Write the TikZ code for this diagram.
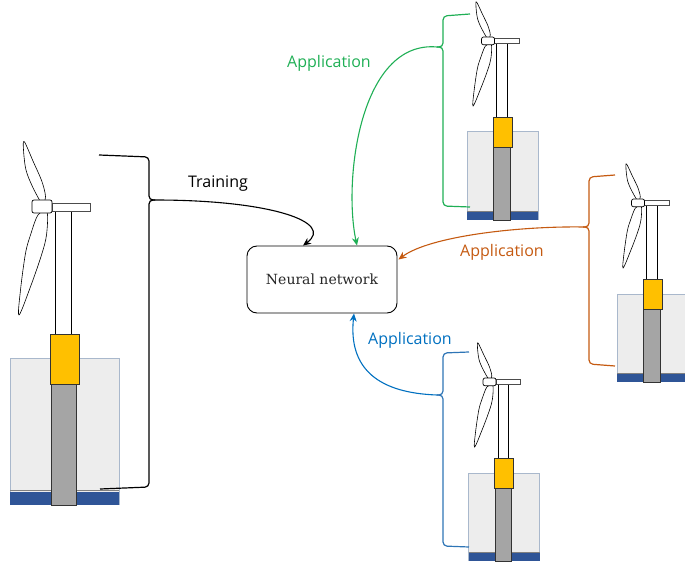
\documentclass[tikz,border=0pt]{standalone}
\usepackage{fontspec}
\newfontfamily\labelfont{Open Sans}
\newfontfamily\boxfont{DejaVu Serif}
\usetikzlibrary{arrows.meta,calc}

\definecolor{waterfill}{HTML}{EDEDED}
\definecolor{waterline}{HTML}{A9B8CC}
\definecolor{seabed}{HTML}{2F5597}
\definecolor{pilegray}{HTML}{A5A5A5}
\definecolor{tpyellow}{HTML}{FFC000}
\definecolor{appgreen}{HTML}{1FAF55}
\definecolor{apporange}{HTML}{C55A11}
\definecolor{appblue}{HTML}{0070C0}
\definecolor{brkblue}{HTML}{2E75B6}

\tikzset{
  x=1pt, y=-1pt,
  brk/.style={line width=1.2pt, rounded corners=4pt},
  conn/.style={line width=1.1pt, -{Stealth[length=8pt,width=7pt]}},
  lbl/.style={font=\labelfont\fontsize{16}{18}\selectfont, inner sep=0pt},
  nnbox/.style={draw, line width=0.9pt, rounded corners=10pt, minimum width=150pt,
    minimum height=67pt, font=\boxfont\fontsize{14}{16}\selectfont, text=black!85},
  % offshore turbine drawn around the foot of its pile (y grows downwards)
  turbine/.pic={
    \fill[waterfill] (-53.5,0) rectangle (55.5,-147);
    \draw[waterline, line width=0.6pt] (-53.5,0) -- (-53.5,-147) -- (55.5,-147) -- (55.5,0);
    \fill[seabed] (-53.5,0) rectangle (55.5,-13);
    \draw[gray, line width=0.5pt] (-53.5,-15) -- (55.5,-15);
    \draw[fill=pilegray, draw=black!80, line width=0.8pt] (-12.5,0) rectangle (12.5,-121);
    \draw[fill=tpyellow, draw=black!80, line width=0.8pt] (-13.5,-121) rectangle (15.5,-171);
    \fill[white] (-8.5,-171) rectangle (7.5,-292);
    \draw[line width=0.7pt] (-8.5,-171) -- (-8.5,-293) (7.5,-171) -- (7.5,-293);
    \draw[fill=white, draw=black!70, line width=0.7pt] (-11.5,-294) rectangle (26.5,-302);
    \draw[fill=white, line width=0.6pt] plot[smooth cycle, tension=0.55] coordinates {
      (-39.2,-363.3) (-30.2,-343.3) (-21.5,-323.3) (-18,-308.3) (-21,-301)
      (-24,-305) (-31,-318.3) (-37.5,-335) (-40,-355)};
    \draw[fill=white, line width=0.6pt] plot[smooth cycle, tension=0.55] coordinates {
      (-16.5,-293) (-17,-270) (-22,-250) (-33,-218.3) (-44.5,-190)
      (-43,-215) (-38,-251.7) (-33,-270) (-25.5,-290)};
    \draw[fill=white, line width=0.7pt, rounded corners=2pt] (-31.5,-292) rectangle (-11.5,-305);
  }
}

\begin{document}
\begin{tikzpicture}
\useasboundingbox (0,0) rectangle (685,564);
\clip (0,0) rectangle (685,564);

% turbines
\pic at (63.5,505) {turbine};
\pic[xscale=0.65, yscale=0.6] at (502,220) {turbine};
\pic[xscale=0.65, yscale=0.6] at (652,382) {turbine};
\pic[xscale=0.65, yscale=0.6] at (503.5,561) {turbine};

% network
\node[nnbox] (nn) at (322,279.5) {Neural network};

% brackets around the turbines
\coordinate (tipL) at (155,200);
\draw[brk] (99,155) -- (149,157) -- (149,200) -- (tipL);
\draw[brk] (tipL) -- (149,200) -- (149,487) -- (100,489);

\coordinate (tipG) at (437,47);
\draw[brk, appgreen] (470,14) -- (443,16) -- (443,47) -- (tipG);
\draw[brk, appgreen] (tipG) -- (443,47) -- (443,206) -- (470,207);

\coordinate (tipO) at (583,227);
\draw[brk, apporange] (615,175) -- (589,177) -- (589,227) -- (tipO);
\draw[brk, apporange] (tipO) -- (589,227) -- (589,364) -- (615,366);

\coordinate (tipB) at (437,395);
\draw[brk, brkblue] (469,352) -- (443,353) -- (443,395) -- (tipB);
\draw[brk, brkblue] (tipB) -- (443,395) -- (443,546) -- (469,547);

% end points on the network box
\coordinate (inT) at ($(nn.north)+(-19,0)$);
\coordinate (inG) at ($(nn.north)+(35,0)$);
\coordinate (inO) at ($(nn.east)+(1,-20)$);
\coordinate (inB) at ($(nn.south)+(32,0)$);

% connectors
\draw[conn] (tipL) .. controls (270,200) and (335,222) .. (inT);
\draw[conn, appgreen] (tipG) .. controls (360,40) and (343,180) .. (inG);
\draw[conn, apporange] (tipO) .. controls (520,226) and (430,236) .. (inO);
\draw[conn, appblue] (tipB) .. controls (380,393) and (348,370) .. (inB);

% labels
\node[lbl] (ltrain) at (218,183.5) {Training};
\node[lbl, text=appgreen] (lgreen) at (329,63.5) {Application};
\node[lbl, text=apporange] (lorange) at (502,252.5) {Application};
\node[lbl, text=appblue] (lblue) at (410,340.5) {Application};
\end{tikzpicture}
\end{document}
